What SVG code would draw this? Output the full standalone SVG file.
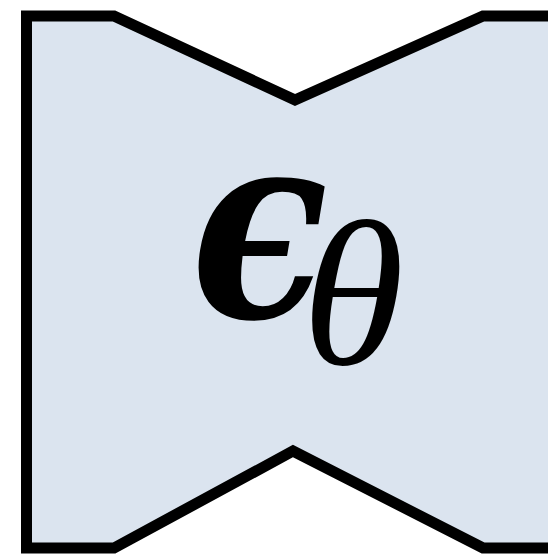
<svg xmlns="http://www.w3.org/2000/svg" width="548" height="554" viewBox="0 0 548 554">
<style>
.node{fill:#dbe4ef;stroke:#000;stroke-width:11;stroke-linejoin:miter}
.eps{font-family:"DejaVu Serif","Liberation Serif",serif;font-weight:bold;font-style:italic;fill:#000}
.sub{font-family:"Liberation Serif","DejaVu Serif",serif;font-style:italic;fill:#000}
</style>
<g id="unet">
<polygon class="node" points="26.5,16 114,16 295,100 483,16 566,16 566,548 483,548 293,451 114,548 26.5,548"/>
<text class="eps" transform="translate(191,317) scale(0.86,1)" font-size="262">ϵ</text>
<text class="sub" x="302" y="364" font-size="208">θ</text>
</g>
<g id="connectors"/>
</svg>
